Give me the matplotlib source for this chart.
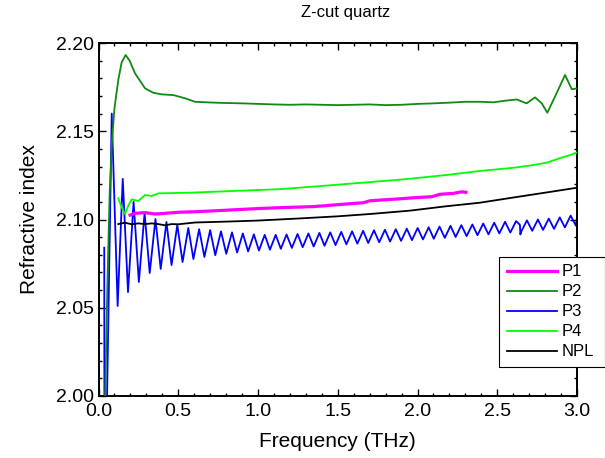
import numpy as np
import matplotlib
matplotlib.use("Agg")
import matplotlib.pyplot as plt
from matplotlib.ticker import MultipleLocator, FormatStrFormatter

plt.rcParams["font.family"] = ["Liberation Sans", "DejaVu Sans"]

# ---------------------------------------------------------------------------
# Data
# ---------------------------------------------------------------------------

# P1 (magenta)
p1_freq = [0.198, 0.229, 0.292, 0.354, 0.417, 0.500, 0.605, 0.70, 0.85, 1.00,
           1.138, 1.347, 1.556, 1.660, 1.702, 1.765, 1.870, 1.974, 2.089, 2.141,
           2.225, 2.277, 2.304]
p1_n = [2.1025, 2.1035, 2.1039, 2.1031, 2.1035, 2.1041, 2.1044, 2.1048, 2.1055, 2.1062,
        2.1067, 2.1073, 2.1088, 2.1095, 2.1106, 2.1110, 2.1116, 2.1123, 2.1129, 2.1143,
        2.1148, 2.1157, 2.1154]

# P2 (dark green)
p2_freq = [0.041, 0.055, 0.070, 0.085, 0.100, 0.124, 0.145, 0.170, 0.195, 0.229,
           0.292, 0.344, 0.396, 0.469, 0.542, 0.605, 0.70, 0.80, 0.90, 1.00,
           1.10, 1.20, 1.30, 1.40, 1.50, 1.60, 1.70, 1.80, 1.90, 2.00,
           2.10, 2.20, 2.30, 2.392, 2.476, 2.549, 2.622, 2.684, 2.737, 2.779,
           2.814, 2.862, 2.925, 2.967, 3.000]
p2_n = [1.995, 2.060, 2.115, 2.145, 2.163, 2.179, 2.189, 2.1932, 2.190, 2.1828,
        2.1743, 2.1718, 2.1709, 2.1705, 2.1687, 2.1667, 2.1663, 2.1660, 2.1658, 2.1655,
        2.1652, 2.1650, 2.1652, 2.1650, 2.1648, 2.1650, 2.1652, 2.1648, 2.1650, 2.1655,
        2.1658, 2.1662, 2.1667, 2.1667, 2.1664, 2.1673, 2.1680, 2.1658, 2.1692, 2.1658,
        2.1605, 2.1696, 2.1819, 2.1738, 2.1743]

# P3 (blue): start, oscillation peaks and troughs, one glitch
p3_start_freq = [0.036, 0.037, 0.052]
p3_start_n = [2.084, 1.990, 1.990]
p3_peak_freq = [0.083, 0.152, 0.220, 0.289, 0.357, 0.426, 0.494, 0.563, 0.631, 0.700,
                0.768, 0.837, 0.905, 0.974, 1.042, 1.111, 1.179, 1.248, 1.316, 1.385,
                1.453, 1.522, 1.590, 1.659, 1.727, 1.796, 1.864, 1.933, 2.001, 2.070,
                2.138, 2.207, 2.275, 2.344, 2.412, 2.481, 2.549, 2.618, 2.686, 2.755,
                2.823, 2.892, 2.960]
p3_peak_n = [2.160, 2.123, 2.110, 2.1037, 2.1003, 2.0986, 2.0969, 2.0952, 2.0945, 2.0940,
             2.0933, 2.0927, 2.0921, 2.0916, 2.0913, 2.0913, 2.0915, 2.0918, 2.0921, 2.0924,
             2.0927, 2.0930, 2.0933, 2.0936, 2.0939, 2.0942, 2.0945, 2.0948, 2.0952, 2.0956,
             2.0960, 2.0964, 2.0968, 2.0972, 2.0977, 2.0982, 2.0987, 2.0991, 2.0995, 2.1000,
             2.1005, 2.1012, 2.1022]
p3_trough_freq = [0.120, 0.185, 0.253, 0.321, 0.390, 0.458, 0.527, 0.595, 0.664, 0.732,
                  0.801, 0.869, 0.938, 1.006, 1.075, 1.143, 1.212, 1.280, 1.349, 1.417,
                  1.486, 1.554, 1.623, 1.691, 1.760, 1.828, 1.897, 1.965, 2.034, 2.102,
                  2.171, 2.239, 2.308, 2.376, 2.445, 2.513, 2.582, 2.650, 2.719, 2.787,
                  2.856, 2.924, 2.993]
p3_trough_n = [2.051, 2.0589, 2.0646, 2.0697, 2.0720, 2.0742, 2.0759, 2.0776, 2.0788, 2.0798,
               2.0806, 2.0813, 2.0819, 2.0824, 2.0829, 2.0834, 2.0839, 2.0843, 2.0847, 2.0851,
               2.0855, 2.0859, 2.0863, 2.0867, 2.0871, 2.0875, 2.0879, 2.0883, 2.0887, 2.0891,
               2.0896, 2.0901, 2.0906, 2.0911, 2.0916, 2.0921, 2.0926, 2.0931, 2.0936, 2.0941,
               2.0947, 2.0955, 2.0965]
p3_extra_freq = [2.642, 2.645, 3.000]
p3_extra_n = [2.0970, 2.0915, 2.1015]

# P4 (lime)
p4_freq = [0.124, 0.145, 0.166, 0.187, 0.208, 0.250, 0.292, 0.333, 0.375, 0.574,
           0.887, 1.138, 1.40, 1.66, 1.92, 2.18, 2.39, 2.60, 2.70, 2.81,
           2.89, 2.956, 3.000]
p4_n = [2.1120, 2.1070, 2.1031, 2.1080, 2.1114, 2.1105, 2.1139, 2.1133, 2.1148, 2.1152,
        2.1163, 2.1172, 2.1190, 2.1209, 2.1228, 2.1252, 2.1275, 2.1293, 2.1305, 2.1322,
        2.1347, 2.1365, 2.1380]

# NPL (black)
npl_freq = [0.124, 0.166, 0.208, 0.250, 0.292, 0.333, 0.375, 0.417, 0.459, 0.500,
            0.605, 0.80, 1.00, 1.26, 1.50, 1.70, 1.95, 2.18, 2.39, 2.64,
            2.80, 3.00]
npl_n = [2.0974, 2.0982, 2.0973, 2.0978, 2.0974, 2.0978, 2.0974, 2.0967, 2.0974, 2.0973,
         2.0983, 2.0988, 2.0994, 2.1006, 2.1018, 2.1031, 2.1050, 2.1075, 2.1095, 2.1130,
         2.1152, 2.1180]

# merge the P3 pieces in frequency order
p3_freq = np.concatenate([p3_start_freq, p3_peak_freq, p3_trough_freq, p3_extra_freq])
p3_n = np.concatenate([p3_start_n, p3_peak_n, p3_trough_n, p3_extra_n])
order = np.argsort(p3_freq)
p3_freq, p3_n = p3_freq[order], p3_n[order]

# ---------------------------------------------------------------------------
# Figure
# ---------------------------------------------------------------------------

W, H = 605, 458
fig = plt.figure(figsize=(W / 100, H / 100), dpi=100)
ax = fig.add_axes([98.5 / W, 1 - 396 / H, (577 - 98.5) / W, (396 - 43) / H])

ax.plot(p1_freq, p1_n, color="#ff00ff", lw=2.3, label="P1", zorder=4)
ax.plot(p2_freq, p2_n, color="#108a10", lw=1.3, label="P2", zorder=3)
ax.plot(p3_freq, p3_n, color="#0000ff", lw=1.3, label="P3", zorder=2,
        solid_joinstyle="round")
ax.plot(p4_freq, p4_n, color="#00ff00", lw=1.3, label="P4", zorder=3)
ax.plot(npl_freq, npl_n, color="black", lw=1.3, label="NPL", zorder=5)

ax.set_xlim(0, 3.0)
ax.set_ylim(2.00, 2.20)
ax.xaxis.set_major_locator(MultipleLocator(0.5))
ax.xaxis.set_minor_locator(MultipleLocator(0.1))
ax.yaxis.set_major_locator(MultipleLocator(0.05))
ax.yaxis.set_minor_locator(MultipleLocator(0.01))
ax.xaxis.set_major_formatter(FormatStrFormatter("%.1f"))
ax.yaxis.set_major_formatter(FormatStrFormatter("%.2f"))
ax.tick_params(which="both", direction="in", top=True, right=True, labelsize=14)
ax.tick_params(which="major", length=5, width=1.0)
ax.tick_params(which="minor", length=2.5, width=1.0)
ax.tick_params(axis="x", which="major", pad=5)
for s in ax.spines.values():
    s.set_linewidth(1.4)

ax.set_xlabel("Frequency (THz)", fontsize=15, labelpad=9)
ax.set_ylabel("Refractive index", fontsize=15, labelpad=12)
fig.text(346 / W, 1 - 17 / H, "Z-cut quartz", fontsize=12, ha="center", va="baseline")

leg_h = 112 / H
leg = ax.legend(loc="upper left", bbox_to_anchor=(499 / W, 1 - 257 / H - leg_h, 106 / W, leg_h),
                bbox_transform=fig.transFigure, mode="expand", borderaxespad=0,
                fontsize=12, handlelength=3.0, handletextpad=0.3, labelspacing=0.3,
                borderpad=0.45, fancybox=False, framealpha=1, edgecolor="black")
leg.get_frame().set_linewidth(0.8)

fig.savefig("out.png", dpi=100)
